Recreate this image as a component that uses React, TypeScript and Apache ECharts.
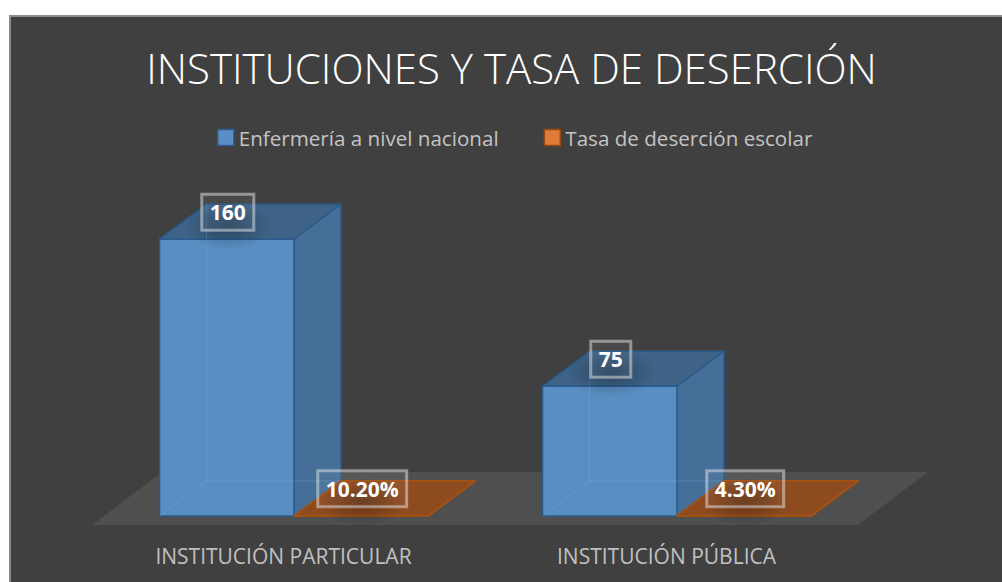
import React, { useEffect, useRef } from 'react';
import * as echarts from 'echarts';

const titleText = 'INSTITUCIONES Y TASA DE DESERCIÓN';
const categories = ['INSTITUCIÓN PARTICULAR', 'INSTITUCIÓN PÚBLICA'];
const seriesNames = ['Enfermería a nivel nacional', 'Tasa de deserción escolar'];
const enfermeria = [160, 75];
const desercion = [0.102, 0.043];

const PAL = [
  { legend: '#5a8fc6', legendBorder: '#2c5d8e', front: '#598ec2', side: '#456f98', top: '#3e6387', edge: '#2a5b8c', hidden: 'rgba(120,180,240,0.3)' },
  { legend: '#e07c38', legendBorder: '#9a4813', front: '#924d20', side: '#7a3f16', top: '#8f4b20', edge: '#a8520f', hidden: 'rgba(0,0,0,0)' },
];

function makeBox(idx: number) {
  return (params: any, api: any) => {
    const cat = api.value(0);
    const val = api.value(1);
    const base = api.coord([cat, 0]);
    const topP = api.coord([cat, val]);
    const band = api.size([1, 0])[0];
    const bw = band * 0.351;
    const dx = band * 0.1227;
    const dy = -band * 0.0914;
    const c = base[0];
    const x0 = idx === 0 ? c - 1 - bw : c - 1;
    const x1 = x0 + bw;
    const yb = base[1];
    const yt = Math.min(topP[1], yb - 0.3);
    const p = PAL[idx];
    const edge = { stroke: p.edge, lineWidth: 1.5, lineJoin: 'round' };
    const txt = idx === 0 ? String(val) : (val * 100).toFixed(2) + '%';
    const lx = (x0 + x1) / 2 + 1;
    const ly = yt - 27;
    const children: any[] = [
      { type: 'polygon', shape: { points: [[x0, yt], [x0 + dx, yt + dy], [x1 + dx, yt + dy], [x1, yt]] }, style: { fill: p.top, ...edge } },
      { type: 'polygon', shape: { points: [[x1, yt], [x1 + dx, yt + dy], [x1 + dx, yb + dy], [x1, yb]] }, style: { fill: p.side, ...edge } },
      { type: 'rect', shape: { x: x0, y: yt, width: bw, height: yb - yt }, style: { fill: p.front, ...edge } },
      { type: 'polyline', shape: { points: [[x0, yb], [x0 + dx, yb + dy], [x1 + dx, yb + dy]] }, style: { stroke: p.hidden, lineWidth: 1, fill: null } },
      { type: 'line', shape: { x1: x0 + dx, y1: yb + dy, x2: x0 + dx, y2: yt + dy }, style: { stroke: p.hidden, lineWidth: 1 } },
      {
        type: 'rect',
        shape: { x: lx - 45, y: ly - 12, width: 90, height: 50 },
        style: {
          fill: {
            type: 'radial', x: 0.5, y: 0.5, r: 0.5,
            colorStops: [{ offset: 0, color: 'rgba(0,0,0,0.3)' }, { offset: 1, color: 'rgba(0,0,0,0)' }],
          },
        },
      },
      {
        type: 'text',
        x: lx,
        y: ly,
        style: {
          text: txt,
          fill: '#ffffff',
          fontFamily: 'Open Sans',
          fontWeight: 'bold',
          fontSize: 21,
          lineHeight: 22,
          align: 'center',
          verticalAlign: 'middle',
          padding: [7, 8, 7, 8],
          borderColor: 'rgba(230,230,230,0.5)',
          borderWidth: 1.5,
          backgroundColor: 'rgba(255,255,255,0.05)',
        },
      },
    ];
    return { type: 'group', children };
  };
}

function renderFloor(params: any) {
  const cs = params.coordSys;
  const band = cs.width / 2;
  const fx = -band * 0.03;
  const fy = band * 0.0235;
  const dx = band * 0.1828;
  const dy = -band * 0.1384;
  const yb = cs.y + cs.height + fy;
  const xl = cs.x + fx;
  const xr = cs.x + cs.width + fx;
  return {
    type: 'polygon',
    shape: { points: [[xl, yb], [xl + dx, yb + dy], [xr + dx, yb + dy], [xr, yb]] },
    style: { fill: '#504f50' },
  };
}

export default function App() {
  const ref = useRef<HTMLDivElement>(null);
  useEffect(() => {
    if (!ref.current) return;
    const chart = echarts.init(ref.current, null, { renderer: 'svg' });
    chart.setOption({
      animation: false,
      backgroundColor: 'transparent',
      graphic: [
        {
          type: 'text',
          x: 511.5,
          y: 67,
          style: {
            text: titleText,
            fill: '#ffffff',
            fontFamily: 'Open Sans',
            fontWeight: 300,
            fontSize: 42,
            align: 'center',
            verticalAlign: 'middle',
          },
        },
      ],
      legend: {
        left: 217,
        top: 127,
        padding: 0,
        itemWidth: 16,
        itemHeight: 16,
        itemGap: 45,
        icon: 'rect',
        textStyle: { color: '#c4c4c4', fontFamily: 'Open Sans', fontSize: 20.6 },
        data: seriesNames.map((n, i) => ({
          name: n,
          itemStyle: { color: PAL[i].legend, borderColor: PAL[i].legendBorder, borderWidth: 1.5 },
        })),
      },
      grid: { left: 103.5, right: 132.5, top: 204.6, bottom: 66, outerBoundsMode: 'none' },
      xAxis: {
        type: 'category',
        data: categories,
        axisLine: { show: false },
        axisTick: { show: false },
        splitLine: { show: false },
        axisLabel: {
          color: '#c0c0c0',
          fontFamily: 'Open Sans',
          fontSize: 21,
          margin: 29,
          padding: [0, 23, 0, 0],
        },
      },
      yAxis: { type: 'value', min: 0, max: 180, show: false },
      series: [
        {
          type: 'custom',
          name: 'floor',
          silent: true,
          z: 1,
          data: [[0, 0]],
          renderItem: renderFloor,
        },
        {
          type: 'custom',
          name: seriesNames[0],
          z: 3,
          itemStyle: { color: PAL[0].legend },
          data: enfermeria.map((v, i) => [i, v]),
          renderItem: makeBox(0),
        },
        {
          type: 'custom',
          name: seriesNames[1],
          z: 3,
          itemStyle: { color: PAL[1].legend },
          data: desercion.map((v, i) => [i, v]),
          renderItem: makeBox(1),
        },
      ],
    });
    return () => chart.dispose();
  }, []);
  return (
    <>
      <div
        style={{
          position: 'fixed',
          left: 9,
          top: 15,
          width: 993,
          height: 567,
          boxSizing: 'border-box',
          background: '#404040',
          borderLeft: '2px solid #8c8c8c',
          borderTop: '2px solid #8c8c8c',
        }}
      />
      <div ref={ref} style={{ position: 'fixed', left: 0, top: 0, width: 1002, height: 582 }} />
    </>
  );
}
